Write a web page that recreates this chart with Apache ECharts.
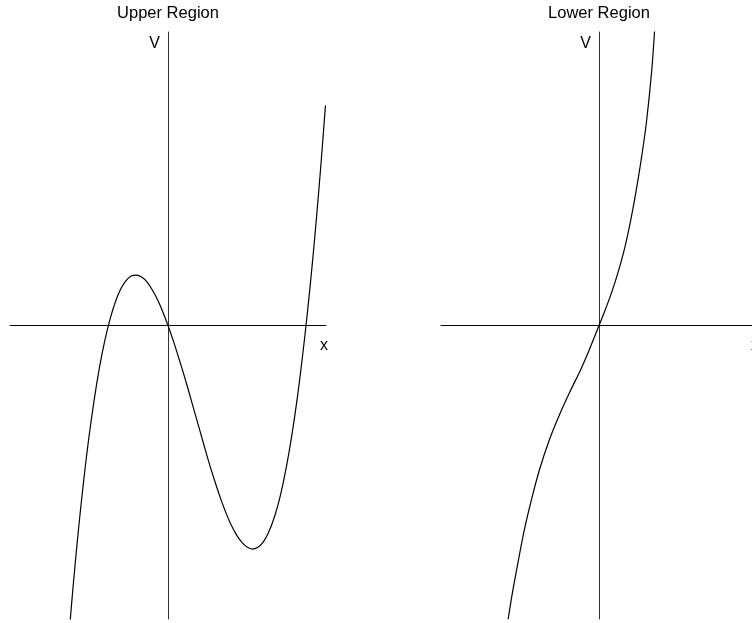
<!DOCTYPE html>
<html>
<head>
<meta charset="utf-8">
<script src="https://cdn.jsdelivr.net/npm/echarts@6/dist/echarts.min.js"></script>
<style>
  html, body { margin: 0; padding: 0; background: #fff; }
  #chart { width: 752px; height: 623px; }
</style>
</head>
<body>
<div id="chart"></div>
<script>
// Panel titles and axis names
const panelTitles = ['Upper Region', 'Lower Region'];
const axisNameX = 'x';
const axisNameV = 'V';

// Upper region: potential V sampled along x
const upperX = [-1.86, -1.8, -1.7, -1.6, -1.5, -1.4, -1.3, -1.2, -1.1, -1.0, -0.9, -0.8, -0.7, -0.6,
                -0.5, -0.4, -0.3, -0.2, -0.1, 0, 0.1, 0.2, 0.3, 0.4, 0.5, 0.6, 0.7, 0.8, 0.9, 1.0,
                1.1, 1.2, 1.3, 1.4, 1.5, 1.6, 1.7, 1.8, 1.9, 2.0, 2.1, 2.2, 2.3, 2.4, 2.5, 2.6,
                2.7, 2.8, 2.9, 2.99];
const upperV = [-6.07, -5.31, -4.17, -3.16, -2.27, -1.51, -0.85, -0.31, 0.13, 0.48, 0.74, 0.91, 1.01, 1.03,
                0.99, 0.89, 0.73, 0.53, 0.28, 0, -0.31, -0.65, -1.00, -1.37, -1.75, -2.13, -2.51, -2.88, -3.22, -3.54,
                -3.83, -4.08, -4.28, -4.43, -4.53, -4.57, -4.54, -4.44, -4.25, -3.98, -3.62, -3.15, -2.58, -1.90, -1.11, -0.20,
                0.82, 1.96, 3.24, 4.50];

// Lower region: potential V sampled along x
const lowerX = [-1.726, -1.637, -1.53, -1.42, -1.287, -1.133, -0.947, -0.74, -0.541, -0.355, -0.19, 0,
                0.1, 0.2, 0.3, 0.4, 0.5, 0.6, 0.7, 0.8, 0.9, 1.0, 1.06];
const lowerV = [-6.01, -5.42, -4.80, -4.19, -3.58, -2.96, -2.35, -1.80, -1.33, -0.92, -0.51, 0,
                0.27, 0.555, 0.87, 1.23, 1.64, 2.14, 2.72, 3.38, 4.15, 5.20, 6.1];

// Shared axis extents
const xRange = [-3, 3];
const vRange = [-6, 6];

const pairs = (xs, ys) => xs.map((x, i) => [x, ys[i]]);

const chart = echarts.init(document.getElementById('chart'), null, { renderer: 'canvas' });

const gridLefts = [10, 441];
const gridWidth = 316;
const textFont = 'Liberation Sans, Arial, sans-serif';

function xAxisFor(idx) {
  return {
    type: 'value', gridIndex: idx, min: xRange[0], max: xRange[1],
    axisLine: { show: true, onZero: true, lineStyle: { color: '#000', width: 1 } },
    axisTick: { show: false }, axisLabel: { show: false }, splitLine: { show: false },
    name: axisNameX, nameLocation: 'end', nameGap: -2,
    nameTextStyle: { fontSize: 16, color: '#000', fontFamily: textFont,
                     align: 'center', verticalAlign: 'top', padding: [12, 0, 0, 0] }
  };
}
function yAxisFor(idx) {
  return {
    type: 'value', gridIndex: idx, min: vRange[0], max: vRange[1],
    axisLine: { show: true, onZero: true, lineStyle: { color: '#333', width: 1 } },
    axisTick: { show: false }, axisLabel: { show: false }, splitLine: { show: false },
    name: axisNameV, nameLocation: 'end', nameGap: -4,
    nameTextStyle: { fontSize: 16, color: '#000', fontFamily: textFont,
                     align: 'right', verticalAlign: 'top', padding: [0, 8, 0, 0] }
  };
}

chart.setOption({
  animation: false,
  backgroundColor: '#fff',
  title: panelTitles.map((t, i) => ({
    text: t, padding: 0,
    left: gridLefts[i] + gridWidth / 2, top: 5, textAlign: 'center',
    textStyle: { fontSize: 16.5, fontWeight: 'normal', color: '#000', fontFamily: textFont }
  })),
  grid: gridLefts.map(l => ({
    left: l, top: 32, width: gridWidth, height: 587, outerBoundsMode: 'none'
  })),
  xAxis: [xAxisFor(0), xAxisFor(1)],
  yAxis: [yAxisFor(0), yAxisFor(1)],
  series: [
    { type: 'line', xAxisIndex: 0, yAxisIndex: 0, data: pairs(upperX, upperV),
      smooth: 0.3, showSymbol: false, clip: true,
      lineStyle: { color: '#000', width: 1.2 } },
    { type: 'line', xAxisIndex: 1, yAxisIndex: 1, data: pairs(lowerX, lowerV),
      smooth: 0.3, showSymbol: false, clip: true,
      lineStyle: { color: '#000', width: 1.2 } }
  ]
});
</script>
</body>
</html>
